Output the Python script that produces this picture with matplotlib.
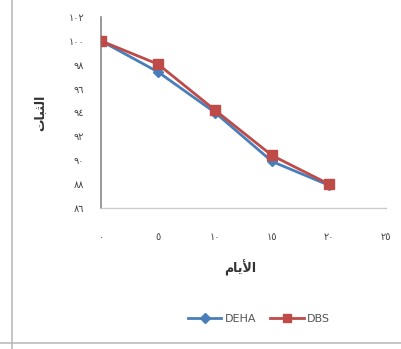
import matplotlib
matplotlib.use("Agg")
import matplotlib.pyplot as plt
from matplotlib.lines import Line2D

days = [0, 5, 10, 15, 20]
deha = [100.0, 97.4, 94.0, 89.9, 87.9]
dbs = [100.0, 98.05, 94.2, 90.4, 88.0]
x_ticks = [0, 5, 10, 15, 20, 25]
y_ticks = [86, 88, 90, 92, 94, 96, 98, 100, 102]
series_names = ["DEHA", "DBS"]

AR = "٠١٢٣٤٥٦٧٨٩"
def ar(n):
    return "".join(AR[int(c)] for c in str(n))

# Arabic labels in presentation forms, visual (left-to-right) order
xlabel = "\uFEE1\uFE8E\uFEF3\uFEF7\uFE8D"          # الأيام
ylabel = "\uFE95\uFE8E\uFE92\uFE9C\uFEDF\uFE8D"    # الثبات

plt.rcParams['font.family'] = ['DejaVu Sans']
W, H = 401, 349
fig = plt.figure(figsize=(W/100, H/100), dpi=100)
ax = fig.add_axes([101/W, 1-208/H, 285/W, 191/H])

blue = "#4A7EBB"
red = "#BE4B48"
ax.plot(days, deha, color=blue, lw=2.0, marker="D", ms=5, mfc=blue, mec=blue, zorder=3)
ax.plot(days, dbs, color=red, lw=2.0, marker="s", ms=7, mfc=red, mec=red, zorder=4)

ax.set_xlim(0, 25)
ax.set_ylim(86, 102)
ax.set_xticks(x_ticks)
ax.set_xticklabels([ar(v) for v in x_ticks], fontsize=7, color="#444444")
ax.set_yticks(y_ticks)
ax.set_yticklabels([ar(v) for v in y_ticks], fontsize=7, color="#444444")
ax.tick_params(axis="both", length=0)
ax.tick_params(axis="x", pad=17)
ax.tick_params(axis="y", pad=12)
for s in ["top", "right"]:
    ax.spines[s].set_visible(False)
ax.spines["left"].set_color("#888888")
ax.spines["left"].set_linewidth(1.2)
ax.spines["bottom"].set_color("#cccccc")
ax.spines["bottom"].set_linewidth(1.0)

fig.text(240/W, 1-268/H, xlabel, ha="center", va="center", fontsize=9, fontweight="bold", color="#333333")
fig.text(40/W, 1-113/H, ylabel, ha="center", va="center", rotation=90, fontsize=9, fontweight="bold", color="#333333")

handles = [Line2D([], [], color=blue, lw=2.0, marker="D", ms=5),
           Line2D([], [], color=red, lw=2.0, marker="s", ms=6)]
fig.legend(handles, series_names, loc="center", bbox_to_anchor=(259/W, 1-319/H), ncol=2,
           frameon=False, fontsize=8, handlelength=3.0, handletextpad=0.3, columnspacing=1.3,
           labelcolor="#555555")

# surrounding page frame lines
fig.add_artist(Line2D([12/W, 12/W], [0, 1], color="#bbbbbb", lw=1.2, transform=fig.transFigure))
fig.add_artist(Line2D([0, 1], [1-343/H, 1-343/H], color="#bbbbbb", lw=1.2, transform=fig.transFigure))

fig.savefig("out.png", dpi=100)
